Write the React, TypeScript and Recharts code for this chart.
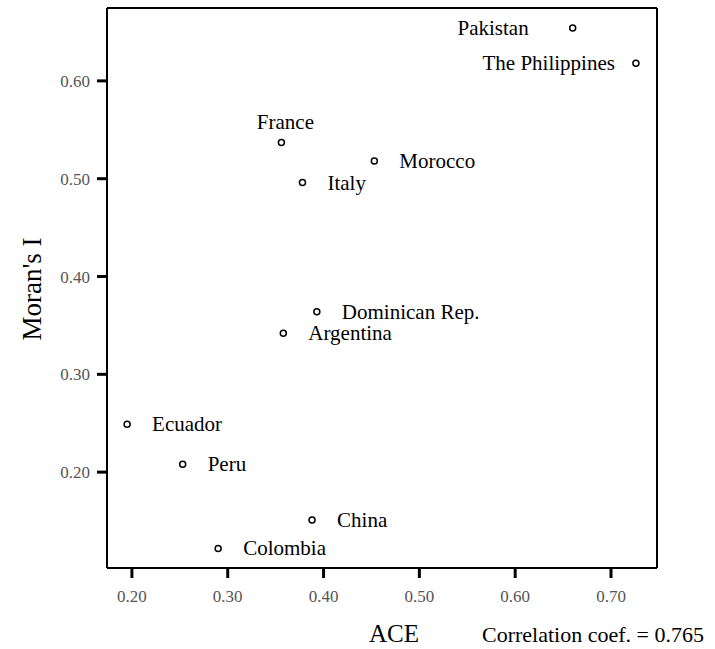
import {
  ScatterChart,
  Scatter,
  XAxis,
  YAxis,
  ReferenceLine,
} from "recharts";

const COUNTRIES = [
  "Pakistan",
  "The Philippines",
  "France",
  "Morocco",
  "Italy",
  "Dominican Rep.",
  "Argentina",
  "Ecuador",
  "Peru",
  "China",
  "Colombia",
];
const ACE = [0.66, 0.726, 0.356, 0.453, 0.378, 0.393, 0.358, 0.195, 0.253, 0.388, 0.29];
const MORAN = [0.654, 0.618, 0.537, 0.518, 0.496, 0.364, 0.342, 0.249, 0.208, 0.151, 0.122];

const X_TICKS = [0.2, 0.3, 0.4, 0.5, 0.6, 0.7];
const Y_TICKS = [0.2, 0.3, 0.4, 0.5, 0.6];
const X_DOMAIN: [number, number] = [0.174, 0.748];
const Y_DOMAIN: [number, number] = [0.102, 0.6745];

// where each label sits relative to its point
const LABEL_SIDE: Record<string, { side: "right" | "left" | "top"; gap: number }> = {
  Pakistan: { side: "left", gap: 44 },
  "The Philippines": { side: "left", gap: 21 },
  France: { side: "top", gap: 20 },
};

const FONT = "'Liberation Serif', 'Times New Roman', serif";

const data = COUNTRIES.map((name, i) => ({ name, ace: ACE[i], moran: MORAN[i] }));

function PointWithLabel(props: any) {
  const { cx, cy, payload } = props;
  const place = LABEL_SIDE[payload.name] ?? { side: "right", gap: 25 };
  let tx = cx + place.gap;
  let ty = cy;
  let anchor: "start" | "end" | "middle" = "start";
  if (place.side === "left") {
    tx = cx - place.gap;
    anchor = "end";
  } else if (place.side === "top") {
    tx = cx + 4;
    ty = cy - place.gap;
    anchor = "middle";
  }
  return (
    <g>
      <circle cx={cx} cy={cy} r={3} fill="#fff" stroke="#000" strokeWidth={1.5} />
      <text
        x={tx}
        y={ty}
        textAnchor={anchor}
        dominantBaseline="central"
        fontFamily={FONT}
        fontSize={21}
        fill="#000"
      >
        {payload.name}
      </text>
    </g>
  );
}

const fmt = (v: number) => v.toFixed(2);

export default function App() {
  return (
    <div style={{ position: "absolute", left: 0, top: 0, background: "#fff" }}>
      <ScatterChart
        width={715}
        height={649}
        margin={{ top: 8, right: 58, bottom: 0, left: 0 }}
      >
        <XAxis
          type="number"
          dataKey="ace"
          domain={X_DOMAIN}
          ticks={X_TICKS}
          allowDataOverflow
          height={81}
          tickFormatter={fmt}
          tickSize={10}
          tickMargin={12}
          axisLine={{ stroke: "#000", strokeWidth: 2 }}
          tickLine={{ stroke: "#000", strokeWidth: 3 }}
          tick={{ fill: "#555", fontSize: 17, fontFamily: FONT }}
        />
        <YAxis
          type="number"
          dataKey="moran"
          domain={Y_DOMAIN}
          ticks={Y_TICKS}
          allowDataOverflow
          width={107}
          tickFormatter={fmt}
          tickSize={10}
          tickMargin={7}
          axisLine={{ stroke: "#000", strokeWidth: 2 }}
          tickLine={{ stroke: "#000", strokeWidth: 3 }}
          tick={{ fill: "#555", fontSize: 17, fontFamily: FONT }}
        />
        <ReferenceLine y={Y_DOMAIN[1]} stroke="#000" strokeWidth={2} />
        <ReferenceLine x={X_DOMAIN[1]} stroke="#000" strokeWidth={2} />
        <Scatter data={data} isAnimationActive={false} shape={PointWithLabel} />
        <text
          x={41}
          y={289}
          transform="rotate(-90 41 289)"
          textAnchor="middle"
          fontFamily={FONT}
          fontSize={27}
          fill="#000"
        >
          Moran's I
        </text>
        <text x={394} y={642} textAnchor="middle" fontFamily={FONT} fontSize={25} fill="#000">
          ACE
        </text>
        <text x={482} y={642} fontFamily={FONT} fontSize={22} fill="#000">
          Correlation coef. = 0.765
        </text>
      </ScatterChart>
    </div>
  );
}
